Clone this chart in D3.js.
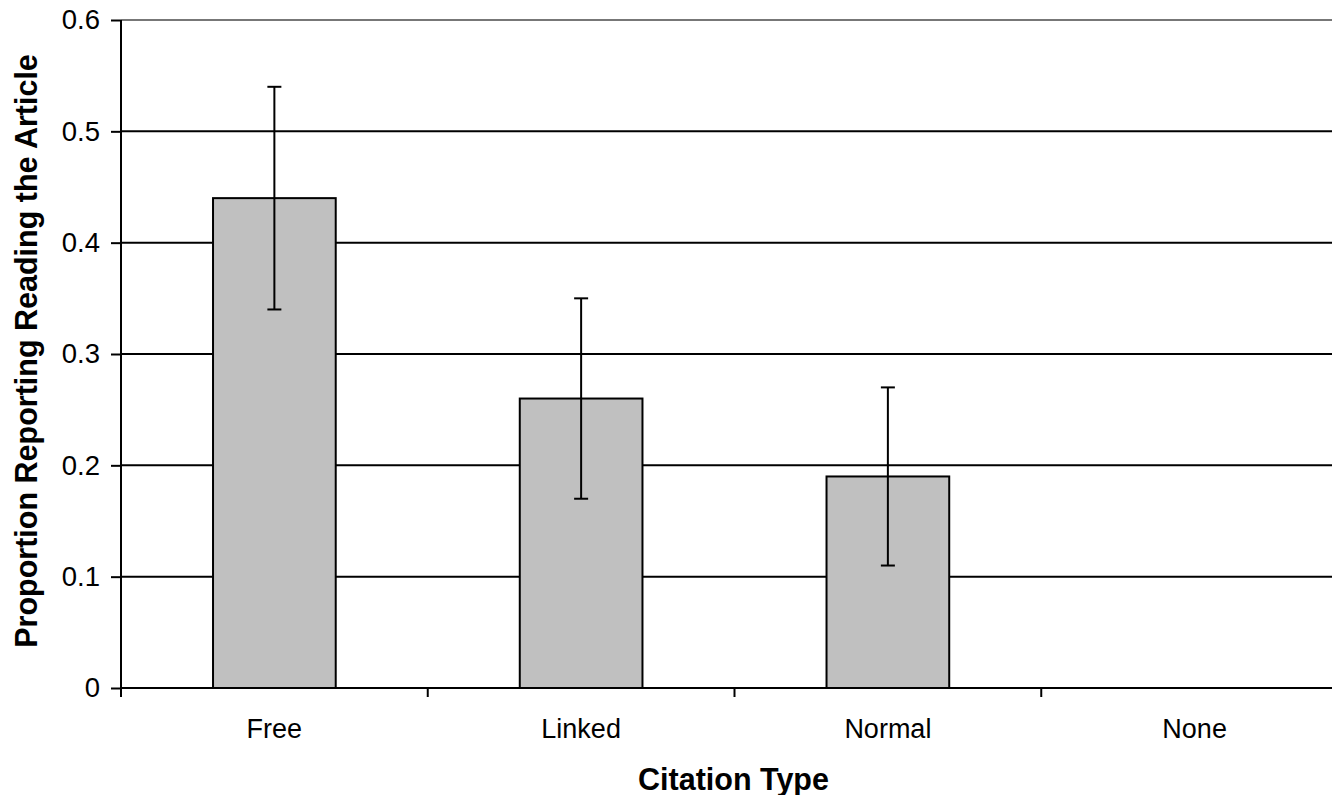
<!DOCTYPE html>
<html><head><meta charset="utf-8">
<script src="https://cdn.jsdelivr.net/npm/d3@7"></script>
<style>body{margin:0;background:#fff}svg{display:block}</style>
</head><body>
<svg id="c" width="1332" height="795"></svg>
<script>
const categories = ["Free", "Linked", "Normal", "None"];
const values = [0.44, 0.26, 0.19, null];
const errLow = [0.34, 0.17, 0.11, null];
const errHigh = [0.54, 0.35, 0.27, null];
const yTicks = [0, 0.1, 0.2, 0.3, 0.4, 0.5, 0.6];
const yTickLabels = ["0", "0.1", "0.2", "0.3", "0.4", "0.5", "0.6"];

(function () {
const svg = d3.select("#c");
const font = "'Liberation Sans', Arial, sans-serif";
const mLeft = 121, mRight = 1348, mTop = 20, mBottom = 688;

const x = d3.scaleBand().domain(categories).range([mLeft, mRight]).padding(0);
const y = d3.scaleLinear().domain([0, 0.6]).range([mBottom, mTop]);

// gridlines
svg.append("g").selectAll("line").data(yTicks.filter(d => d > 0)).join("line")
  .attr("x1", mLeft).attr("x2", mRight)
  .attr("y1", d => y(d)).attr("y2", d => y(d))
  .attr("stroke", d => d === 0.6 ? "#777" : "#000").attr("stroke-width", 2);

// bars
const data = categories.map((c, i) => ({c, v: values[i], lo: errLow[i], hi: errHigh[i]})).filter(d => d.v != null);
const bw = x.bandwidth() * 0.4;
svg.append("g").selectAll("rect").data(data).join("rect")
  .attr("x", d => x(d.c) + (x.bandwidth() - bw) / 2)
  .attr("y", d => y(d.v))
  .attr("width", bw)
  .attr("height", d => y(0) - y(d.v))
  .attr("fill", "#c0c0c0").attr("stroke", "#000").attr("stroke-width", 2);

// error bars
const eg = svg.append("g").attr("stroke", "#000").attr("stroke-width", 2);
data.forEach(d => {
  const cx = x(d.c) + x.bandwidth() / 2;
  eg.append("line").attr("x1", cx).attr("x2", cx).attr("y1", y(d.lo)).attr("y2", y(d.hi));
  [d.lo, d.hi].forEach(v => eg.append("line").attr("x1", cx - 7).attr("x2", cx + 7).attr("y1", y(v)).attr("y2", y(v)));
});

// y axis
const yAxis = svg.append("g").attr("transform", `translate(${mLeft},0)`)
  .call(d3.axisLeft(y).tickValues(yTicks).tickFormat((d, i) => yTickLabels[i]).tickSize(10).tickPadding(11));
yAxis.select(".domain").attr("stroke", "#000").attr("stroke-width", 2).attr("d", `M0,${mTop}V${mBottom}`);
yAxis.selectAll(".tick line").attr("stroke", "#000").attr("stroke-width", 2);
yAxis.selectAll("text").attr("font-family", font).attr("font-size", 27.5).attr("fill", "#000");

// x axis
const xAxis = svg.append("g").attr("transform", `translate(0,${mBottom})`)
  .call(d3.axisBottom(x).tickSize(0).tickPadding(31));
xAxis.select(".domain").attr("stroke", "#000").attr("stroke-width", 2).attr("d", `M${mLeft},0H${mRight}`);
xAxis.selectAll("text").attr("font-family", font).attr("font-size", 27).attr("fill", "#000");
svg.append("g").selectAll("line").data(categories).join("line")
  .attr("x1", d => x(d)).attr("x2", d => x(d))
  .attr("y1", mBottom).attr("y2", mBottom + 9)
  .attr("stroke", "#000").attr("stroke-width", 2);

// titles
svg.append("text").attr("x", (mLeft + mRight) / 2 - 1).attr("y", 790)
  .attr("text-anchor", "middle").attr("font-family", font).attr("font-weight", "bold").attr("font-size", 30.5)
  .text("Citation Type");
svg.append("text").attr("transform", `translate(37,351) rotate(-90)`)
  .attr("text-anchor", "middle").attr("font-family", font).attr("font-weight", "bold").attr("font-size", 30.5)
  .text("Proportion Reporting Reading the Article");
})();
</script>
</body></html>
